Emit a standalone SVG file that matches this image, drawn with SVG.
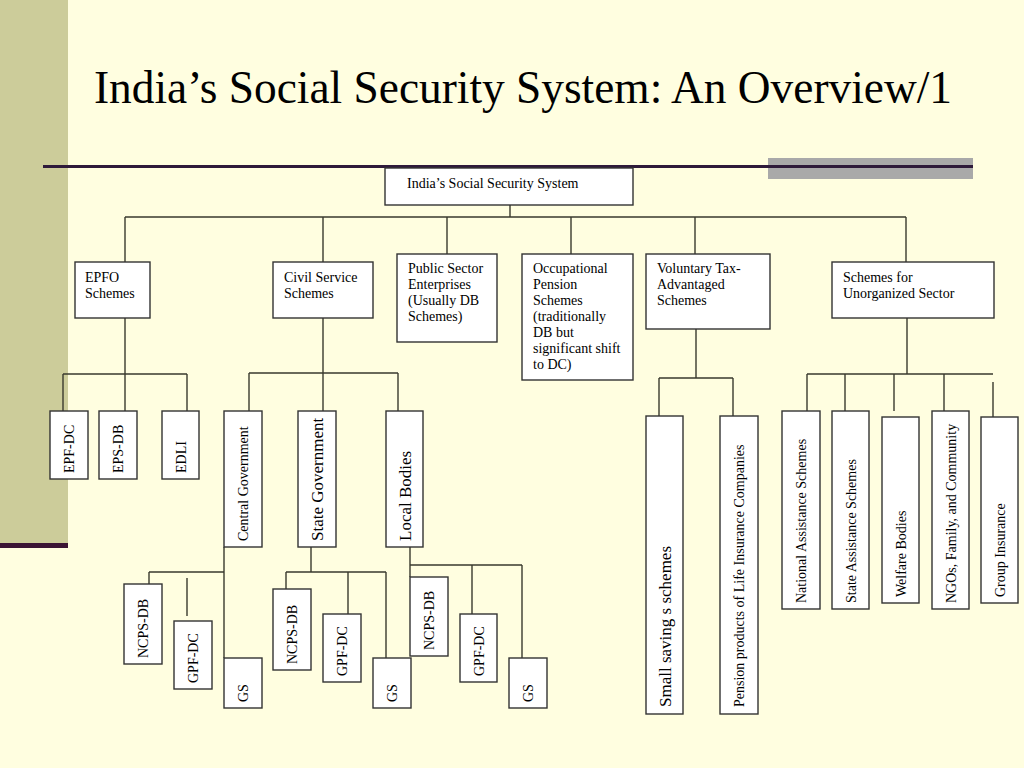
<svg xmlns="http://www.w3.org/2000/svg" width="1024" height="768" viewBox="0 0 1024 768">
<style>
.box{fill:#ffffff;stroke:#333333;stroke-width:1.4}
.t{font-family:"Liberation Serif","Times New Roman",serif;font-size:14px;fill:#000}
.tb{font-family:"Liberation Serif","Times New Roman",serif;font-size:17px;fill:#000}
.conn path{fill:none;stroke:#3a3a2e;stroke-width:1.4}
</style>
<rect x="0" y="0" width="1024" height="768" fill="#fffee0"/>
<rect x="0" y="0" width="68" height="545" fill="#cccc9a"/>
<rect x="0" y="543" width="68" height="5" fill="#3b1434"/>
<rect x="768" y="158" width="205" height="21" fill="#a9a9a9"/>
<rect x="43" y="165" width="930" height="3" fill="#2e1a3a"/>
<text x="94" y="103" font-family="'Liberation Serif', 'Times New Roman', serif" font-size="46" textLength="858" lengthAdjust="spacingAndGlyphs" fill="#000">India’s Social Security System: An Overview/1</text>

<g class="conn" id="connectors">
<path d="M510,205V217M125,217H906M125,217V262M323,217V262M447,217V254M571,217V254M695,217V254M906,217V262"/>
<path d="M125,318V411M63,374H187M63,374V411M187,374V411"/>
<path d="M323,318V411M249,373H398M249,373V411M398,373V411"/>
<path d="M224,547V658M149,572H224M149,572V584M187,578V616"/>
<path d="M311,547V572M286,572H386M286,572V589M348,572V614M386,572V658"/>
<path d="M410,547V577M410,565H522M472,565V614M522,565V658"/>
<path d="M696,329V378M659,378H733M659,378V416M733,378V416"/>
<path d="M907,318V374M807,374H993M807,374V411M845,374V411M894,374V411M944,374V411M993,382V417"/>
</g>

<g id="root"><rect class="box" x="385" y="168" width="248" height="37"/><text class="t" x="407" y="188">India’s Social Security System</text></g>
<g id="epfo"><rect class="box" x="75" y="262" width="75" height="56"/><text class="t" x="85" y="282">EPFO</text><text class="t" x="85" y="298">Schemes</text></g>
<g id="civil"><rect class="box" x="273" y="262" width="100" height="56"/><text class="t" x="284" y="282">Civil Service</text><text class="t" x="284" y="298">Schemes</text></g>
<g id="public"><rect class="box" x="397" y="254" width="100" height="88"/><text class="t" x="408" y="273">Public Sector</text><text class="t" x="408" y="289">Enterprises</text><text class="t" x="408" y="305">(Usually DB</text><text class="t" x="408" y="321">Schemes)</text></g>
<g id="occupational"><rect class="box" x="522" y="254" width="111" height="126"/><text class="t" x="533" y="273">Occupational</text><text class="t" x="533" y="289">Pension</text><text class="t" x="533" y="305">Schemes</text><text class="t" x="533" y="321">(traditionally</text><text class="t" x="533" y="337">DB but</text><text class="t" x="533" y="353">significant shift</text><text class="t" x="533" y="369">to DC)</text></g>
<g id="voluntary"><rect class="box" x="646" y="254" width="124" height="75"/><text class="t" x="657" y="273">Voluntary Tax-</text><text class="t" x="657" y="289">Advantaged</text><text class="t" x="657" y="305">Schemes</text></g>
<g id="unorganized"><rect class="box" x="832" y="262" width="162" height="56"/><text class="t" x="843" y="282">Schemes for</text><text class="t" x="843" y="298">Unorganized Sector</text></g>

<g id="epf-dc"><rect class="box" x="50" y="411" width="38" height="68"/><text class="t" transform="translate(74,473) rotate(-90)">EPF-DC</text></g>
<g id="eps-db"><rect class="box" x="99" y="411" width="38" height="68"/><text class="t" transform="translate(123,473) rotate(-90)">EPS-DB</text></g>
<g id="edli"><rect class="box" x="162" y="411" width="37" height="68"/><text class="t" transform="translate(185.5,473) rotate(-90)">EDLI</text></g>

<g id="central"><rect class="box" x="224" y="411" width="38" height="136"/><text class="t" transform="translate(248,541) rotate(-90)">Central Government</text></g>
<g id="state"><rect class="box" x="298" y="411" width="38" height="136"/><text class="tb" transform="translate(323,541) rotate(-90)">State Government</text></g>
<g id="local"><rect class="box" x="386" y="411" width="37" height="136"/><text class="tb" transform="translate(410.5,541) rotate(-90)">Local Bodies</text></g>

<g id="c-ncps"><rect class="box" x="124" y="584" width="38" height="80"/><text class="t" transform="translate(148,658) rotate(-90)">NCPS-DB</text></g>
<g id="c-gpf"><rect class="box" x="174" y="621" width="38" height="68"/><text class="t" transform="translate(198,683) rotate(-90)">GPF-DC</text></g>
<g id="c-gs"><rect class="box" x="224" y="658" width="38" height="50"/><text class="t" transform="translate(248,702) rotate(-90)">GS</text></g>

<g id="s-ncps"><rect class="box" x="273" y="589" width="38" height="81"/><text class="t" transform="translate(297,664) rotate(-90)">NCPS-DB</text></g>
<g id="s-gpf"><rect class="box" x="323" y="614" width="38" height="68"/><text class="t" transform="translate(347,676) rotate(-90)">GPF-DC</text></g>
<g id="s-gs"><rect class="box" x="373" y="658" width="38" height="50"/><text class="t" transform="translate(397,702) rotate(-90)">GS</text></g>

<g id="l-ncps"><rect class="box" x="410" y="577" width="38" height="79"/><text class="t" transform="translate(434,650) rotate(-90)">NCPS-DB</text></g>
<g id="l-gpf"><rect class="box" x="460" y="614" width="37" height="68"/><text class="t" transform="translate(483.5,676) rotate(-90)">GPF-DC</text></g>
<g id="l-gs"><rect class="box" x="509" y="658" width="38" height="50"/><text class="t" transform="translate(533,702) rotate(-90)">GS</text></g>

<g id="small-saving"><rect class="box" x="646" y="416" width="37" height="298"/><text class="tb" transform="translate(670.5,707) rotate(-90)">Small saving s schemes</text></g>
<g id="pension-products"><rect class="box" x="720" y="416" width="38" height="298"/><text class="t" transform="translate(744,707) rotate(-90)">Pension products of Life Insurance Companies</text></g>

<g id="national"><rect class="box" x="782" y="411" width="38" height="198"/><text class="t" transform="translate(806,603) rotate(-90)">National Assistance Schemes</text></g>
<g id="state-assistance"><rect class="box" x="832" y="411" width="37" height="198"/><text class="t" transform="translate(855.5,603) rotate(-90)">State Assistance Schemes</text></g>
<g id="welfare"><rect class="box" x="882" y="417" width="37" height="186"/><text class="t" transform="translate(905.5,597) rotate(-90)">Welfare Bodies</text></g>
<g id="ngos"><rect class="box" x="932" y="411" width="37" height="198"/><text class="t" transform="translate(955.5,603) rotate(-90)">NGOs, Family, and Community</text></g>
<g id="group"><rect class="box" x="981" y="417" width="37" height="186"/><text class="t" transform="translate(1004.5,597) rotate(-90)">Group Insurance</text></g>
</svg>
